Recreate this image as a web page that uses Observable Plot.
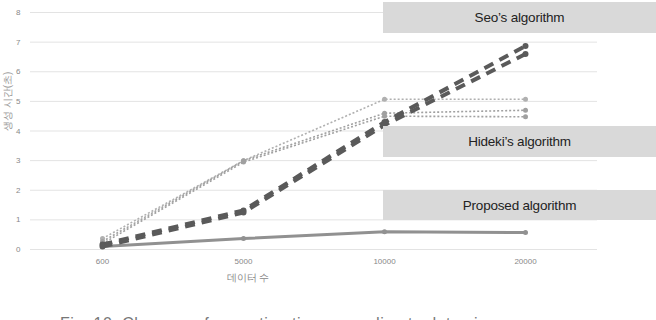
<!DOCTYPE html>
<html>
<head>
<meta charset="utf-8">
<script src="https://cdn.jsdelivr.net/npm/d3@7"></script>
<script src="https://cdn.jsdelivr.net/npm/@observablehq/plot@0.6"></script>
<style>
  html, body { margin: 0; padding: 0; background: #fff; }
  #wrap { position: relative; width: 656px; height: 320px; overflow: hidden; font-family: "Liberation Sans", Arial, sans-serif; }
  .box { position: absolute; left: 383px; width: 273px; background: #d9d9d9; color: #222;
         font-size: 13.5px; display: flex; align-items: center; justify-content: center; letter-spacing: -0.2px; }
  #caption { position: absolute; left: 60px; top: 315px; font-size: 16px; color: #777; letter-spacing: 0.5px; white-space: nowrap; }
</style>
</head>
<body>
<div id="wrap">
  <div id="chart"></div>
  <div class="box" style="top:2px;height:31px"><span>Seo’s algorithm</span></div>
  <div class="box" style="top:126px;height:31px"><span>Hideki’s algorithm</span></div>
  <div class="box" style="top:190px;height:30px"><span>Proposed algorithm</span></div>
  <div id="caption">Fig. 10.  Changes of execution time according to data size</div>
</div>
<script>
const categories = ["600", "5000", "10000", "20000"];
const proposed = [0.1, 0.37, 0.6, 0.57];
const seoA = [0.17, 1.32, 4.3, 6.87];
const seoB = [0.1, 1.25, 4.2, 6.6];
const hidekiA = [0.37, 3.0, 5.07, 5.07];
const hidekiB = [0.27, 3.0, 4.6, 4.7];
const hidekiC = [0.2, 2.95, 4.5, 4.48];
const yTicks = [0, 1, 2, 3, 4, 5, 6, 7, 8];
const xLabel = "데이터 수";
const yLabel = "생성 시간(초)";

const series = [
  {name: "hidekiA", values: hidekiA, stroke: "#b0b0b0", width: 1.6, dash: "2,2"},
  {name: "hidekiB", values: hidekiB, stroke: "#a0a0a0", width: 1.6, dash: "2,2"},
  {name: "hidekiC", values: hidekiC, stroke: "#a0a0a0", width: 1.6, dash: "2,2"},
  {name: "proposed", values: proposed, stroke: "#919191", width: 3, dash: null},
  {name: "seoA", values: seoA, stroke: "#5a5a5a", width: 4, dash: "10,7"},
  {name: "seoB", values: seoB, stroke: "#5a5a5a", width: 4, dash: "10,7"}
];

const marks = [
  Plot.ruleY(yTicks, {stroke: "#e3e3e3", strokeWidth: 1}),
  Plot.axisY(yTicks, {tickSize: 0, tickPadding: 10, fontSize: 8, fill: "#888", label: null}),
  Plot.axisX({tickSize: 0, tickPadding: 9, fontSize: 8, fill: "#888", label: null}),
  Plot.text([xLabel], {frameAnchor: "bottom", dx: -66, dy: 31, fontSize: 10, fill: "#888"}),
  Plot.text([yLabel], {frameAnchor: "left", dx: -23, rotate: -90, fontSize: 10, fill: "#999"})
];
for (const s of series) {
  const data = categories.map((c, i) => ({x: c, y: s.values[i]}));
  marks.push(Plot.line(data, {x: "x", y: "y", stroke: s.stroke, strokeWidth: s.width,
    strokeDasharray: s.dash, strokeLinecap: "butt"}));
  marks.push(Plot.dot(data, {x: "x", y: "y", r: s.name.startsWith("seo") ? 3 : 2.5, fill: s.stroke, stroke: "none"}));
}

const chart = Plot.plot({
  width: 656,
  height: 300,
  marginLeft: 30,
  marginRight: 59,
  marginTop: 12,
  marginBottom: 51,
  style: {fontFamily: "'Liberation Sans', Arial, sans-serif", background: "transparent", overflow: "visible"},
  x: {type: "point", domain: categories, padding: 0.5},
  y: {domain: [0, 8]},
  marks
});
document.getElementById("chart").appendChild(chart);
</script>
</body>
</html>
